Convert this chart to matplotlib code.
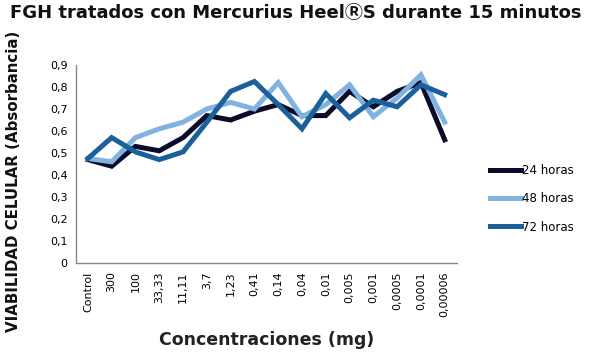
import matplotlib
matplotlib.use("Agg")
import matplotlib.pyplot as plt

categories = ["Control", "300", "100", "33,33", "11,11", "3,7", "1,23", "0,41", "0,14",
              "0,04", "0,01", "0,005", "0,001", "0,0005", "0,0001", "0,00006"]
h24 = [0.47, 0.44, 0.53, 0.51, 0.57, 0.67, 0.65, 0.69, 0.72, 0.67, 0.67, 0.78, 0.71, 0.78, 0.82, 0.56]
h48 = [0.475, 0.46, 0.57, 0.61, 0.64, 0.70, 0.73, 0.70, 0.82, 0.665, 0.72, 0.81, 0.665, 0.75, 0.855, 0.64]
h72 = [0.475, 0.57, 0.505, 0.47, 0.505, 0.64, 0.78, 0.825, 0.72, 0.61, 0.77, 0.66, 0.74, 0.71, 0.81, 0.765]
yticks = [0, 0.1, 0.2, 0.3, 0.4, 0.5, 0.6, 0.7, 0.8, 0.9]
ytick_labels = ["0", "0,1", "0,2", "0,3", "0,4", "0,5", "0,6", "0,7", "0,8", "0,9"]

plt.rcParams['font.family'] = ['DejaVu Sans', 'Noto Sans CJK SC']

fig = plt.figure(figsize=(5.91, 3.55), dpi=100)
ax = fig.add_axes([0.1286, 0.259, 0.644, 0.558])
x = range(len(categories))
ax.plot(x, h24, color="#0b0b2a", lw=3.6, label="24 horas", solid_joinstyle="miter")
ax.plot(x, h48, color="#80b3e0", lw=3.6, label="48 horas", solid_joinstyle="miter")
ax.plot(x, h72, color="#1b5f9b", lw=3.6, label="72 horas", solid_joinstyle="miter")

ax.set_xlim(-0.5, len(categories) - 0.5)
ax.set_ylim(0, 0.9)
ax.set_yticks(yticks)
ax.set_yticklabels(ytick_labels, fontsize=8)
ax.set_xticks(list(x))
ax.set_xticklabels(categories, rotation=90, fontsize=8)
ax.tick_params(length=0, pad=6)
for s in ["top", "right"]:
    ax.spines[s].set_visible(False)
for s in ["left", "bottom"]:
    ax.spines[s].set_color("#888888")
    ax.spines[s].set_linewidth(1)

ax.set_xlabel("Concentraciones (mg)", fontsize=12.5, fontweight="bold", color="#222222", labelpad=10)
fig.text(0.022, 0.49, "VIABILIDAD CELULAR (Absorbancia)", rotation=90, fontsize=10.8,
         fontweight="bold", ha="center", va="center", color="#111111")
fig.text(0.5, 0.962, "FGH tratados con Mercurius Heel\u24c7S durante 15 minutos", fontsize=13,
         fontweight="bold", ha="center", va="center", color="#111111")

leg = ax.legend(loc="center left", bbox_to_anchor=(1.06, 0.325), frameon=False, fontsize=8.5,
                handlelength=2.6, handletextpad=0.1, labelspacing=1.3)
fig.savefig("out.png", dpi=100)
